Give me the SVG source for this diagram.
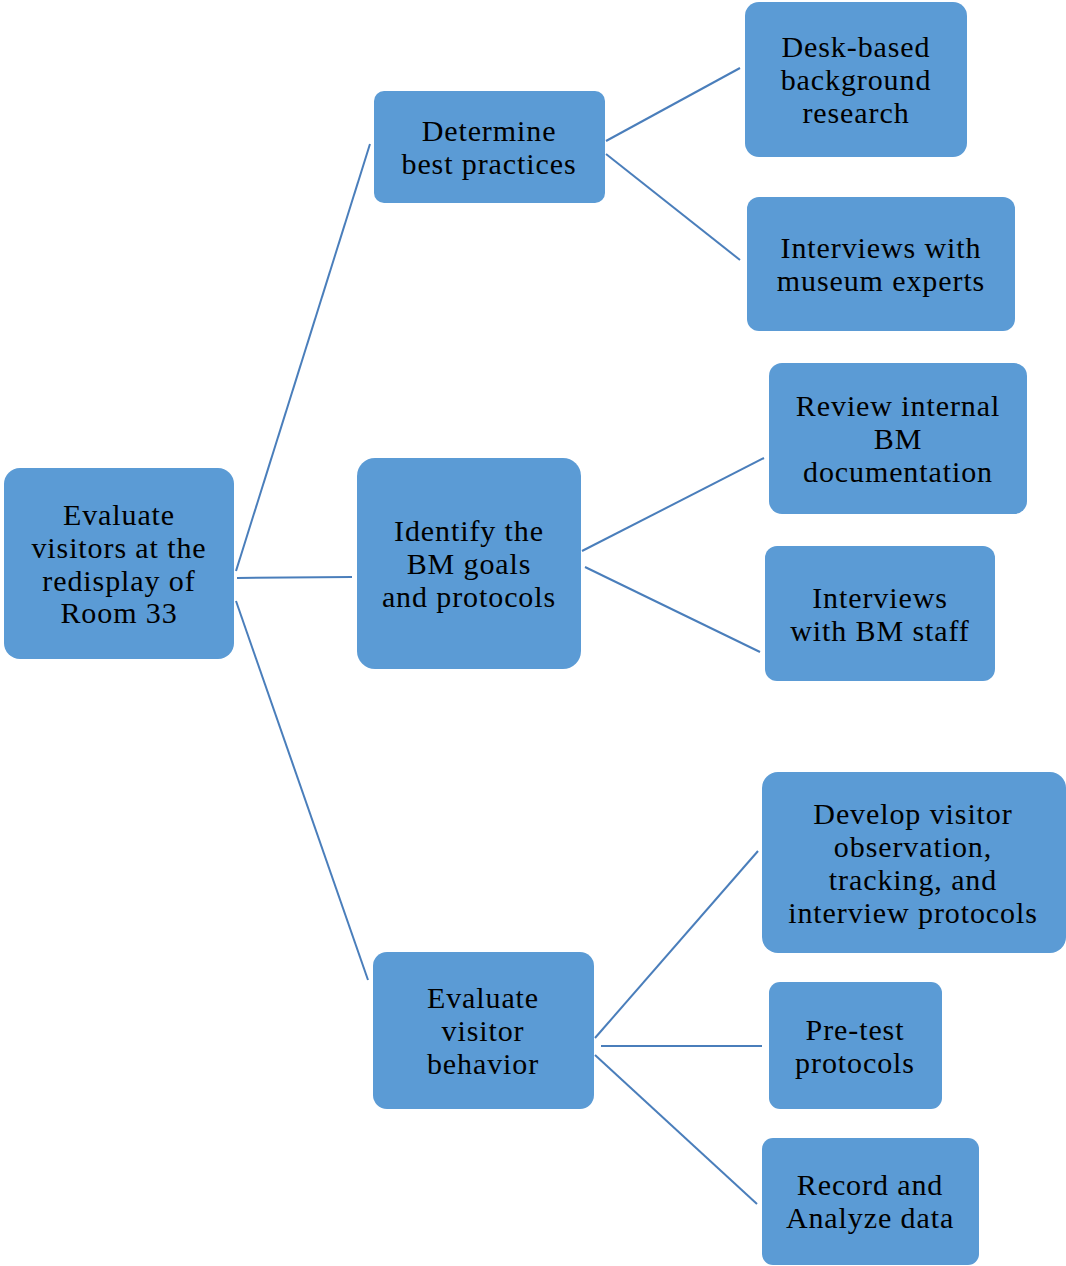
<svg xmlns="http://www.w3.org/2000/svg" width="1066" height="1266" viewBox="0 0 1066 1266">
<style>
.box{fill:#5B9BD5;}
.t{font-family:'Liberation Serif',serif;font-size:30px;letter-spacing:0.9px;fill:#000;text-anchor:middle;}
.c{stroke:#4A7EBB;stroke-width:2;fill:none;}
</style>
<rect width="1066" height="1266" fill="#fff"/>
<g id="connectors">
<line class="c" x1="236" y1="571" x2="370" y2="144"/>
<line class="c" x1="237" y1="578" x2="352" y2="577"/>
<line class="c" x1="236" y1="601" x2="368" y2="980"/>
<line class="c" x1="606" y1="141" x2="740" y2="68"/>
<line class="c" x1="606" y1="154" x2="740" y2="260"/>
<line class="c" x1="582" y1="551" x2="764" y2="458"/>
<line class="c" x1="585" y1="567" x2="760" y2="652"/>
<line class="c" x1="595" y1="1038" x2="758" y2="851"/>
<line class="c" x1="601" y1="1046" x2="762" y2="1046"/>
<line class="c" x1="595" y1="1055" x2="757" y2="1204"/>
</g>
<g id="root">
<rect class="box" x="4" y="468" width="230" height="191" rx="16"/>
<text class="t" x="119" y="525">Evaluate</text>
<text class="t" x="119" y="558">visitors at the</text>
<text class="t" x="119" y="591">redisplay of</text>
<text class="t" x="119" y="623">Room 33</text>
</g>
<g id="determine">
<rect class="box" x="374" y="91" width="231" height="112" rx="10"/>
<text class="t" x="489" y="141">Determine</text>
<text class="t" x="489" y="174">best practices</text>
</g>
<g id="identify">
<rect class="box" x="357" y="458" width="224" height="211" rx="18"/>
<text class="t" x="469" y="541">Identify the</text>
<text class="t" x="469" y="574">BM goals</text>
<text class="t" x="469" y="607">and protocols</text>
</g>
<g id="evaluate-behavior">
<rect class="box" x="373" y="952" width="221" height="157" rx="14"/>
<text class="t" x="483" y="1008">Evaluate</text>
<text class="t" x="483" y="1041">visitor</text>
<text class="t" x="483" y="1074">behavior</text>
</g>
<g id="desk">
<rect class="box" x="745" y="2" width="222" height="155" rx="14"/>
<text class="t" x="856" y="57">Desk-based</text>
<text class="t" x="856" y="90">background</text>
<text class="t" x="856" y="123">research</text>
</g>
<g id="interviews-experts">
<rect class="box" x="747" y="197" width="268" height="134" rx="12"/>
<text class="t" x="881" y="258">Interviews with</text>
<text class="t" x="881" y="291">museum experts</text>
</g>
<g id="review">
<rect class="box" x="769" y="363" width="258" height="151" rx="13"/>
<text class="t" x="898" y="416">Review internal</text>
<text class="t" x="898" y="449">BM</text>
<text class="t" x="898" y="482">documentation</text>
</g>
<g id="interviews-staff">
<rect class="box" x="765" y="546" width="230" height="135" rx="12"/>
<text class="t" x="880" y="608">Interviews</text>
<text class="t" x="880" y="641">with BM staff</text>
</g>
<g id="develop">
<rect class="box" x="762" y="772" width="304" height="181" rx="16"/>
<text class="t" x="913" y="824">Develop visitor</text>
<text class="t" x="913" y="857">observation,</text>
<text class="t" x="913" y="890">tracking, and</text>
<text class="t" x="913" y="923">interview protocols</text>
</g>
<g id="pretest">
<rect class="box" x="769" y="982" width="173" height="127" rx="11"/>
<text class="t" x="855" y="1040">Pre-test</text>
<text class="t" x="855" y="1073">protocols</text>
</g>
<g id="record">
<rect class="box" x="762" y="1138" width="217" height="127" rx="11"/>
<text class="t" x="870" y="1195">Record and</text>
<text class="t" x="870" y="1228">Analyze data</text>
</g>
</svg>
